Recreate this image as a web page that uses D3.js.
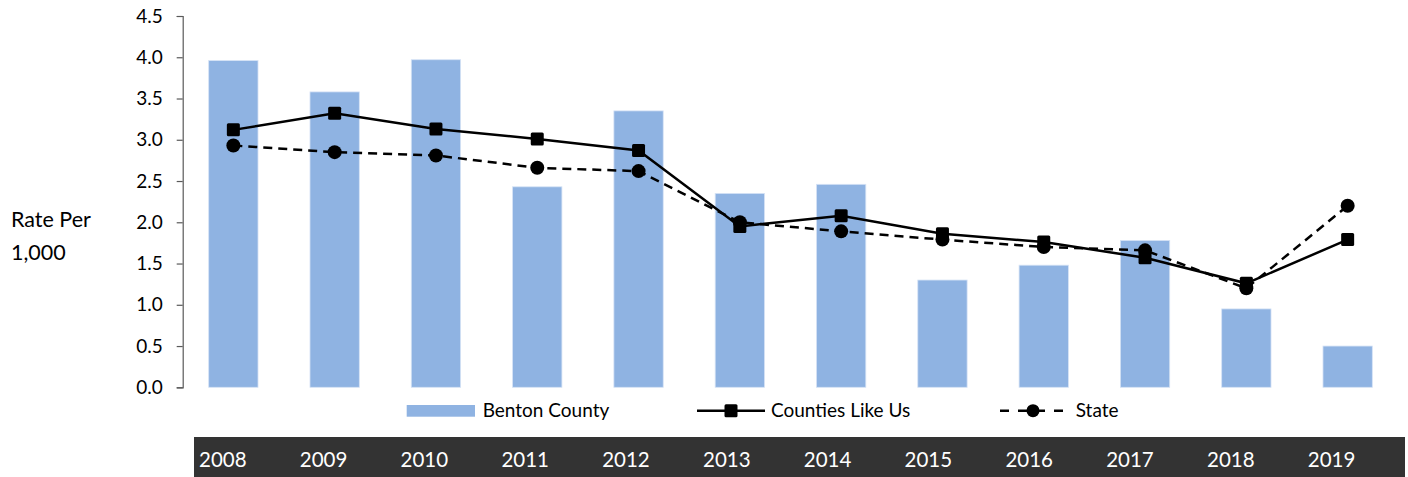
<!DOCTYPE html>
<html>
<head>
<meta charset="utf-8">
<script src="https://cdn.jsdelivr.net/npm/d3@7"></script>
<style>
  html, body { margin: 0; padding: 0; background: #fff; }
  svg { display: block; font-family: Lato, "Liberation Sans", sans-serif; }
</style>
</head>
<body>
<svg id="chart" width="1408" height="477"></svg>
<script>
// Rate per 1,000 by year
const years = ["2008","2009","2010","2011","2012","2013","2014","2015","2016","2017","2018","2019"];
const bentonCounty = [3.96, 3.58, 3.97, 2.43, 3.35, 2.35, 2.46, 1.30, 1.48, 1.78, 0.95, 0.50];
const countiesLikeUs = [3.12, 3.32, 3.13, 3.01, 2.87, 1.95, 2.08, 1.86, 1.76, 1.57, 1.26, 1.79];
const state = [2.93, 2.85, 2.81, 2.66, 2.62, 2.00, 1.89, 1.79, 1.70, 1.66, 1.20, 2.20];
const yTicks = [0, 0.5, 1, 1.5, 2, 2.5, 3, 3.5, 4, 4.5];
const seriesNames = ["Benton County", "Counties Like Us", "State"];

const svg = d3.select("#chart");
const barColor = "#8FB3E2";

const x = d3.scaleBand()
  .domain(years)
  .range([182.7, 182.7 + 12 * 101.3])
  .paddingInner(0.513)
  .paddingOuter(0.2565);

const y = d3.scaleLinear().domain([0, 4.5]).range([387.3, 16]);

// Bars
svg.append("g").selectAll("rect")
  .data(years.map((yr, i) => ({ yr, v: bentonCounty[i] })))
  .join("rect")
  .attr("x", d => x(d.yr))
  .attr("width", x.bandwidth())
  .attr("y", d => y(d.v))
  .attr("height", d => y(0) - y(d.v))
  .attr("fill", barColor)
  .attr("stroke", "#d6e3f5")
  .attr("stroke-width", 0.8);

// Y axis
const yAxis = d3.axisLeft(y)
  .tickValues(yTicks)
  .tickFormat(d3.format(".1f"))
  .tickSize(6)
  .tickPadding(14);
const gy = svg.append("g")
  .attr("transform", "translate(182.7,0)")
  .call(yAxis);
gy.select(".domain").attr("stroke", "#595959").attr("stroke-width", 1.2);
gy.selectAll(".tick line").attr("stroke", "#595959").attr("stroke-width", 1.2);
gy.selectAll(".tick text")
  .attr("fill", "#000")
  .style("font-size", "19px")
  .style("font-family", "Lato, sans-serif");

// Axis title
svg.append("text").attr("x", 11).attr("y", 227).text("Rate Per")
  .attr("fill", "#000").style("font-size", "21.5px");
svg.append("text").attr("x", 11).attr("y", 260).text("1,000")
  .attr("fill", "#000").style("font-size", "21.5px");

const cx = yr => x(yr) + x.bandwidth() / 2;
const line = d3.line().x(d => cx(d.yr)).y(d => y(d.v));

// State (dashed, circles)
const stateData = years.map((yr, i) => ({ yr, v: state[i] }));
svg.append("path")
  .datum(stateData)
  .attr("d", line)
  .attr("fill", "none")
  .attr("stroke", "#000")
  .attr("stroke-width", 2.5)
  .attr("stroke-dasharray", "9,6");
svg.append("g").selectAll("circle")
  .data(stateData)
  .join("circle")
  .attr("cx", d => cx(d.yr))
  .attr("cy", d => y(d.v))
  .attr("r", 7)
  .attr("fill", "#000");

// Counties Like Us (solid, squares)
const cluData = years.map((yr, i) => ({ yr, v: countiesLikeUs[i] }));
svg.append("path")
  .datum(cluData)
  .attr("d", line)
  .attr("fill", "none")
  .attr("stroke", "#000")
  .attr("stroke-width", 2.5);
const sq = 13;
svg.append("g").selectAll("rect")
  .data(cluData)
  .join("rect")
  .attr("x", d => cx(d.yr) - sq / 2)
  .attr("y", d => y(d.v) - sq / 2)
  .attr("width", sq)
  .attr("height", sq)
  .attr("rx", 1.5)
  .attr("fill", "#000");

// Legend
const lg = svg.append("g").style("font-size", "19px");
lg.append("rect").attr("x", 406.7).attr("y", 405).attr("width", 68.3).attr("height", 11.7).attr("fill", barColor);
lg.append("text").attr("x", 482.7).attr("y", 417).text(seriesNames[0]).attr("fill", "#000");

lg.append("line").attr("x1", 697).attr("x2", 765).attr("y1", 410.7).attr("y2", 410.7)
  .attr("stroke", "#000").attr("stroke-width", 2.5);
lg.append("rect").attr("x", 731 - 6.5).attr("y", 410.7 - 6.5).attr("width", 13).attr("height", 13).attr("rx", 1.5).attr("fill", "#000");
lg.append("text").attr("x", 771).attr("y", 417).text(seriesNames[1]).attr("fill", "#000");

lg.append("line").attr("x1", 1000).attr("x2", 1066).attr("y1", 410.7).attr("y2", 410.7)
  .attr("stroke", "#000").attr("stroke-width", 2.5).attr("stroke-dasharray", "9,9");
lg.append("circle").attr("cx", 1033).attr("cy", 410.7).attr("r", 6.5).attr("fill", "#000");
lg.append("text").attr("x", 1075.7).attr("y", 417).text(seriesNames[2]).attr("fill", "#000");

// Year table band
const xt = d3.scaleBand().domain(years).range([194, 194 + 12 * 100.8]);
svg.append("rect").attr("x", 194).attr("y", 437).attr("width", 1211).attr("height", 40).attr("fill", "#333333");
svg.append("g").selectAll("text")
  .data(years)
  .join("text")
  .attr("x", d => xt(d) + 5)
  .attr("y", 467)
  .text(d => d)
  .attr("fill", "#fff")
  .style("font-size", "20.5px");
</script>
</body>
</html>
